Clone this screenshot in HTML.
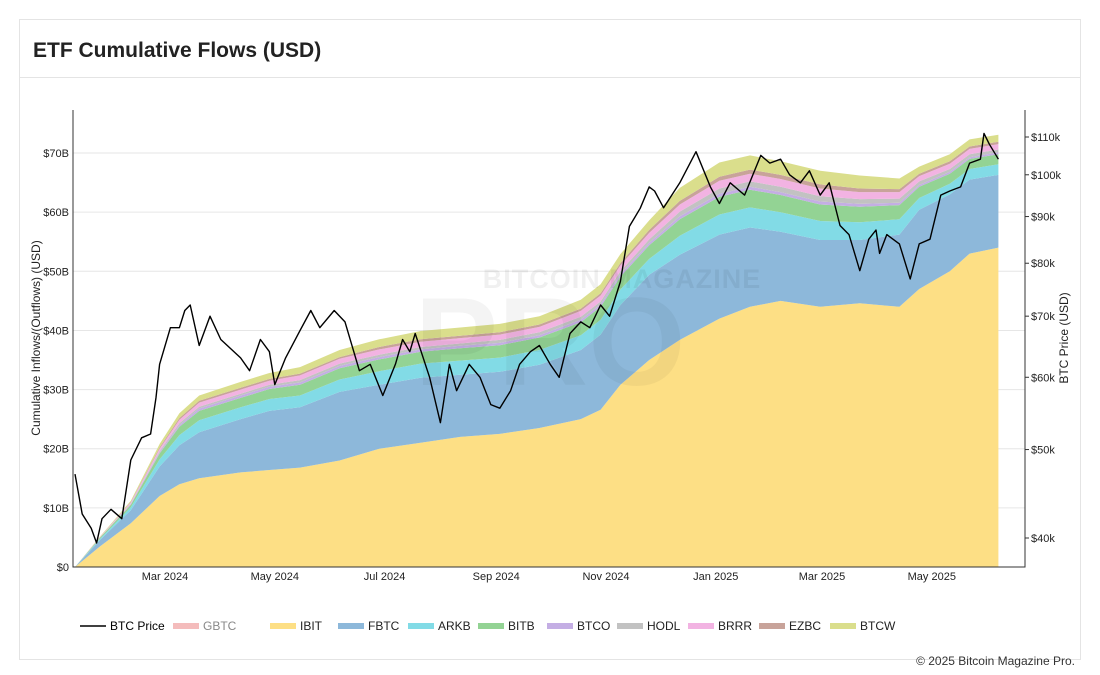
<!DOCTYPE html>
<html><head><meta charset="utf-8"><style>
body{margin:0;background:#fff;font-family:"Liberation Sans",sans-serif;}
svg{display:block}
</style></head><body>
<svg id="chart" width="1100" height="675" viewBox="0 0 1100 675">
<rect x="0" y="0" width="1100" height="675" fill="#fff"/>
<rect x="19.5" y="19.5" width="1061" height="640" fill="none" stroke="#e4e4e4"/>
<line x1="20" y1="77.5" x2="1080" y2="77.5" stroke="#e4e4e4"/>
<text x="33" y="57" font-size="21" font-weight="bold" fill="#222">ETF Cumulative Flows (USD)</text>
<g id="plot"></g>
<text x="1075" y="665" font-size="12" fill="#333" text-anchor="end">© 2025 Bitcoin Magazine Pro.</text>
</svg>
<script>
// days since 2024-01-11
const days=[0,14,31,47,58,69,92,108,125,147,169,192,214,236,258,281,292,303,319,336,358,375,392,414,436,458,469,486,497,513];
const ibit=[0,3.5,7.4,12,14,15,16,16.4,16.8,18,20,21,22,22.5,23.5,25,26.6,30.8,35,38.4,42,44,45,44,44.6,44,47,50,53,54];
const fbtc=[0,1.1,2.2,5,6.6,7.8,9,10,10.2,11.6,10.8,11,10.5,10.5,10.7,11.7,12.7,13.5,14.4,14.4,14.2,13.4,11.7,11.3,10.7,12.2,13.4,13,12.5,12.3];
const arkb=[0,0.2,0.5,1.2,1.7,2,2,2,2,2.1,2.3,2.4,2.4,2.4,2.5,2.5,2.5,2.6,2.7,3.2,3.4,3.4,3.3,3.2,3,2.6,2,1.8,1.8,1.8];
const bitb=[0,0.2,0.4,1,1.4,1.6,1.6,1.7,1.8,1.9,2,2,2.1,2.1,2.1,2.2,2.2,2.2,2.3,2.8,3,3,2.9,2.8,2.6,2.4,1.9,1.7,1.7,1.7];
const btco=[0,0,0.1,0.2,0.3,0.4,0.4,0.4,0.4,0.4,0.4,0.4,0.4,0.4,0.4,0.4,0.4,0.4,0.4,0.5,0.5,0.5,0.5,0.5,0.5,0.4,0.3,0.3,0.3,0.3];
const hodl=[0,0,0.1,0.2,0.3,0.3,0.3,0.3,0.4,0.4,0.4,0.4,0.4,0.5,0.5,0.5,0.5,0.5,0.6,0.8,0.9,0.9,0.9,0.9,0.8,0.7,0.6,0.5,0.5,0.5];
const brrr=[0,0.1,0.2,0.4,0.6,0.7,0.7,0.7,0.8,0.8,0.9,0.9,0.9,0.9,0.9,1,1,1,1.1,1.2,1.3,1.3,1.3,1.3,1.2,1.1,0.9,0.9,0.9,0.9];
const ezbc=[0,0,0.1,0.2,0.3,0.3,0.3,0.3,0.3,0.3,0.4,0.4,0.4,0.4,0.4,0.4,0.4,0.4,0.5,0.6,0.7,0.7,0.7,0.7,0.6,0.5,0.4,0.4,0.4,0.4];
const btcw=[0,0.1,0.2,0.6,0.8,0.9,1,1,1.1,1.2,1.3,1.4,1.4,1.4,1.4,1.5,1.5,1.5,1.6,2.2,2.4,2.4,2.3,2.3,2.2,1.8,1.2,1.2,1.2,1.2];
// BTC price (k USD)
const priceDays=[0,4,9,12,15,20,26,31,37,42,45,47,53,58,61,64,69,75,81,92,97,103,108,111,117,125,131,136,144,150,158,164,171,178,182,186,189,197,203,208,212,219,225,231,236,242,247,253,258,264,269,275,281,286,292,297,303,308,314,319,322,327,336,345,353,358,364,372,381,386,392,397,403,408,414,419,425,430,436,441,445,447,451,458,464,469,475,481,486,492,497,503,505,508,513];
const prices=[47,42.5,41,39.5,42,43,42,48.7,51.5,52,57,62,68,68,71,72,65,70,66,63,61,66,64,58.9,63,67.5,71,68,71,69,61,62,57.3,62,66,64,67,60,53.5,62,58,62,60,56,55.5,58,62,64,65,62,60,67,69,68,72,70,76.4,87.8,91.9,97,96,92,98,106,97,93,98,95,105,103,104,100,98,101,95,98,88,86,78.5,85,87,82,86,84,76.9,84,85,95,96,97,103,104,111,108,104,103,107];
const yTicks=[0,10,20,30,40,50,60,70];
const pTicks=[40,50,60,70,80,90,100,110];
const xTickDays=[50,111,172,234,295,356,415,476];
const xTickLabels=["Mar 2024","May 2024","Jul 2024","Sep 2024","Nov 2024","Jan 2025","Mar 2025","May 2025"];

const NS="http://www.w3.org/2000/svg";
const g=document.getElementById('plot');
const L=73,R=1025,T=110,B=567;
const xs=d=>165+(d-50)*1.8;
const ys=v=>B-v*5.914;
const yp=p=>538-396.4*Math.log(p/40);
function el(tag,attrs){const e=document.createElementNS(NS,tag);for(const k in attrs)e.setAttribute(k,attrs[k]);g.appendChild(e);return e;}

// grid
yTicks.forEach(v=>{const l=el('line',{x1:L,x2:R,y1:ys(v),y2:ys(v),stroke:'#e6e6e6'});


const t=el('text',{x:L-4,y:ys(v)+4,'font-size':11,'text-anchor':'end',fill:'#222'});t.textContent='$'+v+(v?'B':'');

});
pTicks.forEach(p=>{const t=el('text',{x:R+6,y:yp(p)+4,'font-size':11,fill:'#222'});t.textContent='$'+p+'k';


const k=el('line',{x1:R,x2:R+4,y1:yp(p),y2:yp(p),stroke:'#333'});

});
xTickDays.forEach((d,i)=>{const t=el('text',{x:xs(d),y:580,'font-size':11,'text-anchor':'middle',fill:'#222'});t.textContent=xTickLabels[i];

});

// stacked areas
const series=[['IBIT',ibit,'#fddf85'],['FBTC',fbtc,'#8db8da'],['ARKB',arkb,'#82dbe6'],['BITB',bitb,'#93d394'],['BTCO',btco,'#c4aee4'],['HODL',hodl,'#c2c2c2'],['BRRR',brrr,'#f2b3e2'],['EZBC',ezbc,'#c8a39a'],['BTCW',btcw,'#dade8c']];
let base=days.map(()=>0);
series.forEach(([name,vals,col])=>{
  const top=base.map((b,i)=>b+vals[i]);
  let d='M'+days.map((x,i)=>xs(x).toFixed(1)+','+ys(top[i]).toFixed(1)).join('L');
  for(let i=days.length-1;i>=0;i--)d+='L'+xs(days[i]).toFixed(1)+','+ys(base[i]).toFixed(1);
  const p=el('path',{d:d+'Z',fill:col});
  
  
  base=top;
});

// watermark (on top, translucent)
const w1=el('text',{x:622,y:288,'font-size':27,'font-weight':'bold','text-anchor':'middle',fill:'#000','fill-opacity':0.06,'letter-spacing':1});w1.textContent='BITCOIN MAGAZINE';


const w2=el('text',{x:550,y:385,'font-size':125,'font-weight':'bold','text-anchor':'middle',fill:'#000','fill-opacity':0.045});w2.textContent='PRO';



// price line
const pl=el('path',{d:'M'+priceDays.map((x,i)=>xs(x).toFixed(1)+','+yp(prices[i]).toFixed(1)).join('L'),fill:'none',stroke:'#000','stroke-width':1.4,'stroke-linejoin':'round'});



// axes
const ax=el('path',{d:`M${L},${T}V${B}H${R}V${T}`,fill:'none',stroke:'#333'});


const yt=el('text',{x:40,y:338,'font-size':12,'text-anchor':'middle',fill:'#222',transform:'rotate(-90 40 338)'});yt.textContent='Cumulative Inflows/(Outflows) (USD)';


const rt=el('text',{x:1068,y:338,'font-size':12,'text-anchor':'middle',fill:'#222',transform:'rotate(-90 1068 338)'});rt.textContent='BTC Price (USD)';



// legend
const leg=[['BTC Price','line','#000',80],['GBTC','#f4bcbc','#888',173],['IBIT','#fddf85','#222',270],['FBTC','#8db8da','#222',338],['ARKB','#82dbe6','#222',408],['BITB','#93d394','#222',478],['BTCO','#c4aee4','#222',547],['HODL','#c2c2c2','#222',617],['BRRR','#f2b3e2','#222',688],['EZBC','#c8a39a','#222',759],['BTCW','#dade8c','#222',830]];
leg.forEach(([n,c,tc,x])=>{
  if(c==='line'){const m=el('line',{x1:x,x2:x+26,y1:626,y2:626,stroke:'#000','stroke-width':1.5});}
  else{const m=el('rect',{x:x,y:623,width:26,height:6,fill:c});}
  const t=el('text',{x:x+30,y:630,'font-size':12,fill:tc});t.textContent=n;
  
  
});
</script>
</body></html>
